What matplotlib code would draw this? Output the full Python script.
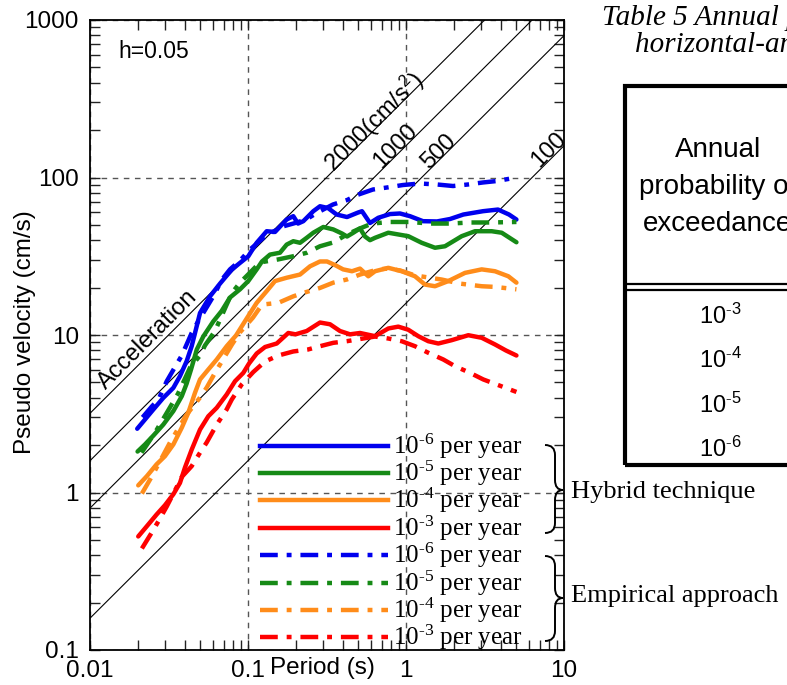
import matplotlib
matplotlib.use("Agg")
import matplotlib.pyplot as plt
from matplotlib import ticker
from matplotlib.lines import Line2D
from matplotlib.patches import PathPatch, Rectangle
from matplotlib.path import Path
import numpy as np

plt.rcParams.update({
    'font.family': ['Liberation Sans', 'DejaVu Sans'],
    'mathtext.fontset': 'custom',
    'mathtext.rm': 'Liberation Serif',
    'mathtext.it': 'Liberation Serif:italic',
    'mathtext.bf': 'Liberation Serif:bold',
    'mathtext.sf': 'Liberation Sans',
})

# ---------------- data (period in s, pseudo velocity in cm/s) ----------------
hyb6_T = [0.0199, 0.0223, 0.0252, 0.0291, 0.0337, 0.0371, 0.0409, 0.0440, 0.0462, 0.0497,
          0.0575, 0.0665, 0.0789, 0.0890, 0.1004, 0.1135, 0.1313, 0.1482, 0.1757, 0.1935,
          0.2073, 0.2239, 0.259, 0.2856, 0.3209, 0.3642, 0.4233, 0.4969, 0.5266, 0.5917,
          0.6677, 0.792, 0.9163, 1.06, 1.281, 1.571, 1.899, 2.306, 3.071, 3.822, 4.487, 5.0]
hyb6_V = [2.54, 2.91, 3.37, 3.99, 4.62, 5.48, 6.82, 8.49, 10.3, 13.8,
          17.6, 21.2, 26.0, 28.7, 31.6, 38.5, 45.6, 45.1, 54.1, 56.8,
          51.0, 52.8, 61.1, 65.7, 64.0, 58.2, 56.1, 59.9, 61.1, 51.4,
          55.5, 58.6, 59.1, 56.8, 52.8, 52.6, 54.5, 58.2, 61.1, 62.6, 58.2, 54.1]

hyb5_T = [0.0200, 0.0223, 0.0252, 0.0291, 0.0337, 0.0381, 0.0409, 0.0436, 0.0474, 0.0521,
          0.0603, 0.0681, 0.0769, 0.0890, 0.1004, 0.1135, 0.1226, 0.1378, 0.1594, 0.1757,
          0.1935, 0.2134, 0.2352, 0.259, 0.2997, 0.3467, 0.3934, 0.4233, 0.464, 0.5115,
          0.5503, 0.5917, 0.6366, 0.7727, 1.034, 1.257, 1.526, 1.765, 2.252, 2.734, 3.486, 4.034, 5.0]
hyb5_V = [1.82, 2.02, 2.30, 2.70, 3.29, 4.09, 4.92, 6.04, 8.09, 9.78,
          12.2, 14.2, 17.3, 19.5, 22.0, 26.1, 29.3, 32.4, 33.3, 37.5,
          39.4, 38.5, 41.4, 44.6, 48.5, 46.8, 44.1, 42.2, 44.6, 47.5,
          42.2, 40.0, 41.4, 44.6, 42.4, 38.5, 35.8, 36.6, 42.4, 45.6, 45.6, 44.6, 38.8]

hyb4_T = [0.0202, 0.0229, 0.0264, 0.0298, 0.0337, 0.0381, 0.0419, 0.0462, 0.0497, 0.0561,
          0.0634, 0.0733, 0.0840, 0.1004, 0.1135, 0.1313, 0.1482, 0.1757, 0.2134, 0.2469,
          0.2856, 0.3162, 0.3553, 0.40, 0.4551, 0.5115, 0.5774, 0.6366, 0.7727, 0.9393,
          1.14, 1.319, 1.526, 1.852, 2.363, 3.014, 3.658, 4.442, 5.0]
hyb4_V = [1.11, 1.27, 1.51, 1.70, 2.02, 2.58, 3.21, 4.30, 5.22, 6.04,
          6.99, 8.49, 9.93, 13.2, 16.0, 19.0, 22.0, 23.1, 24.2, 27.3,
          29.3, 29.3, 27.8, 26.1, 25.4, 26.4, 23.6, 25.4, 26.7, 25.4,
          23.6, 20.9, 20.4, 22.0, 24.8, 26.1, 25.4, 23.6, 21.5]

hyb3_T = [0.0202, 0.0229, 0.0264, 0.0298, 0.0337, 0.0371, 0.0399, 0.0440, 0.0497, 0.0561,
          0.0634, 0.0733, 0.0828, 0.0934, 0.1015, 0.1135, 0.1282, 0.152, 0.1799, 0.20,
          0.2352, 0.2856, 0.3304, 0.3821, 0.4421, 0.5115, 0.6366, 0.7727, 0.8939, 1.034,
          1.196, 1.384, 1.601, 1.946, 2.48, 3.014, 3.658, 4.295, 5.0]
hyb3_V = [0.526, 0.611, 0.725, 0.830, 0.975, 1.15, 1.44, 1.87, 2.51, 3.05,
          3.45, 4.19, 5.09, 5.75, 6.59, 7.63, 8.39, 8.83, 10.3, 10.1,
          10.6, 12.0, 11.7, 10.6, 10.1, 10.3, 9.83, 11.0, 11.3, 10.8,
          9.83, 9.13, 8.83, 9.27, 9.97, 9.60, 8.71, 7.97, 7.41]

emp6_T = [0.0215, 0.0247, 0.0271, 0.0306, 0.0345, 0.0381, 0.0440, 0.0490, 0.0521, 0.0603,
          0.0684, 0.0769, 0.0890, 0.103, 0.130, 0.1665, 0.2042, 0.2362, 0.2734, 0.3451,
          0.4233, 0.4897, 0.6181, 0.758, 0.957, 1.226, 1.571, 1.984, 2.469, 3.071, 3.766, 5.0]
emp6_V = [3.00, 3.53, 3.89, 5.09, 6.26, 7.41, 10.3, 12.5, 13.8, 17.6,
          22.5, 26.1, 29.7, 34.9, 42.8, 48.9, 51.8, 54.5, 59.7, 67.4,
          71.9, 77.4, 83.9, 86.4, 89.6, 91.6, 90.3, 88.3, 90.3, 93.0, 95.0, 100.0]

emp5_T = [0.0212, 0.0258, 0.0307, 0.0361, 0.0430, 0.0497, 0.0534, 0.0618, 0.0733, 0.0792,
          0.0890, 0.103, 0.1191, 0.1555, 0.1926, 0.2362, 0.2856, 0.3467, 0.4233, 0.5115,
          0.6091, 0.792, 1.06, 1.419, 1.899, 2.542, 3.401, 5.0]
emp5_V = [1.79, 2.40, 3.22, 4.25, 6.22, 7.41, 8.58, 10.6, 15.6, 18.5,
          21.5, 24.9, 28.9, 30.2, 31.6, 33.3, 36.6, 38.7, 43.5, 47.5,
          51.0, 52.2, 52.2, 51.0, 51.0, 51.8, 51.8, 52.2]

emp4_T = [0.0213, 0.0240, 0.0266, 0.0321, 0.0405, 0.0497, 0.0548, 0.0618, 0.0715, 0.0792,
          0.0890, 0.1075, 0.1226, 0.1555, 0.1935, 0.2239, 0.2856, 0.3467, 0.4214, 0.5115,
          0.6649, 0.769, 0.9163, 1.14, 1.378, 1.682, 2.197, 3.014, 3.658, 5.0]
emp4_V = [0.985, 1.21, 1.46, 2.08, 3.08, 4.01, 4.64, 5.75, 7.34, 8.71,
          10.4, 12.9, 15.6, 16.0, 17.6, 18.5, 19.9, 21.5, 22.5, 24.2,
          26.1, 26.4, 25.7, 23.9, 23.2, 22.5, 21.2, 20.4, 20.2, 19.5]

emp3_T = [0.0213, 0.0246, 0.0271, 0.0306, 0.0345, 0.0382, 0.0440, 0.0497, 0.0548, 0.0634,
          0.0733, 0.0789, 0.0912, 0.108, 0.1282, 0.1555, 0.1935, 0.2397, 0.2856, 0.3467,
          0.4214, 0.5115, 0.6366, 0.7727, 0.9393, 1.14, 1.384, 1.722, 2.042, 2.542,
          3.085, 3.751, 5.0]
emp3_V = [0.441, 0.557, 0.657, 0.815, 1.03, 1.26, 1.47, 1.79, 2.08, 2.70,
          3.37, 3.89, 4.85, 5.82, 6.79, 7.41, 7.86, 8.09, 8.49, 8.92,
          9.13, 9.43, 9.78, 9.50, 9.13, 8.49, 7.71, 6.99, 6.34, 5.75,
          5.22, 4.85, 4.35]

accel_levels = [2000, 1000, 500, 100]          # cm/s^2
accel_labels = ['2000(cm/s$\\mathsf{^2}$)', '1000', '500', '100']
exceed_exps = [3, 4, 5, 6]
legend_exps = [6, 5, 4, 3, 6, 5, 4, 3]
x_ticks = [0.01, 0.1, 1, 10]
y_ticks = [0.1, 1, 10, 100, 1000]

C_BLUE, C_GREEN, C_ORANGE, C_RED = '#0000ee', '#168a16', '#ff8c1a', '#ff0000'
LW = 3.2
DASHDOT = (4.0, 2.0, 1.1, 2.0)

series = [
    (hyb6_T, hyb6_V, C_BLUE, None), (hyb5_T, hyb5_V, C_GREEN, None),
    (hyb4_T, hyb4_V, C_ORANGE, None), (hyb3_T, hyb3_V, C_RED, None),
    (emp6_T, emp6_V, C_BLUE, DASHDOT), (emp5_T, emp5_V, C_GREEN, DASHDOT),
    (emp4_T, emp4_V, C_ORANGE, DASHDOT), (emp3_T, emp3_V, C_RED, DASHDOT),
]

W, H = 787, 685
def fx(px):
    return px / W
def fy(py):
    return 1 - py / H

fig = plt.figure(figsize=(W / 100, H / 100), dpi=100)
ax = fig.add_axes([fx(90), fy(650), (564 - 90) / W, (650 - 20) / H])
ax.set_xscale('log')
ax.set_yscale('log')
ax.set_xlim(0.01, 10)
ax.set_ylim(0.1, 1000)

# constant pseudo-acceleration lines: PSV = A T / (2 pi)
T_line = np.logspace(-2, 1, 60)
for A in accel_levels:
    ax.plot(T_line, A * T_line / (2 * np.pi), color='black', lw=0.8, zorder=2)

for T, V, c, d in series:
    if d is None:
        ax.plot(T, V, color=c, lw=LW, solid_capstyle='round', solid_joinstyle='round', zorder=3)
    else:
        ax.plot(T, V, color=c, lw=LW, dashes=d, dash_capstyle='butt', zorder=3)

# axes styling
fmt = ticker.FuncFormatter(lambda v, _: f'{v:g}')
ax.xaxis.set_major_locator(ticker.FixedLocator(x_ticks))
ax.yaxis.set_major_locator(ticker.FixedLocator(y_ticks))
ax.xaxis.set_major_formatter(fmt)
ax.yaxis.set_major_formatter(fmt)
ax.xaxis.set_minor_locator(ticker.LogLocator(base=10, subs=np.arange(2, 10)))
ax.yaxis.set_minor_locator(ticker.LogLocator(base=10, subs=np.arange(2, 10)))
ax.xaxis.set_minor_formatter(ticker.NullFormatter())
ax.yaxis.set_minor_formatter(ticker.NullFormatter())
ax.tick_params(which='both', direction='in', top=True, right=True, length=7, width=1,
               color='#222222')
ax.tick_params(axis='y', which='major', labelsize=17.5, pad=8)
ax.tick_params(axis='x', which='major', labelsize=17.5, pad=7)
for s in ax.spines.values():
    s.set_linewidth(1.3)
ax.grid(which='major', linestyle=(0, (4, 4)), color='#555555', lw=1.0)
ax.set_axisbelow(True)

fig.text(fx(25), fy(332), 'Pseudo velocity (cm/s)', fontsize=17.5, rotation=90,
         ha='center', va='center')
fig.text(fx(322), fy(668), 'Period (s)', fontsize=17.5, ha='center', va='center')
fig.text(fx(118), fy(52), 'h=0.05', fontsize=16.5, ha='left', va='center')

# diagonal labels
fig.text(fx(148), fy(340), 'Acceleration', fontsize=17, rotation=45,
         rotation_mode='anchor', ha='center', va='center')
lab_pos = [(374, 122), (396, 146), (439, 152), (549, 150)]
for lab, (px, py) in zip(accel_labels, lab_pos):
    fig.text(fx(px), fy(py), lab, fontsize=17, rotation=45,
             rotation_mode='anchor', ha='center', va='center')

# legend (drawn manually)
leg_colors = [C_BLUE, C_GREEN, C_ORANGE, C_RED] * 2
leg_dashes = [None] * 4 + [DASHDOT] * 4
for i, (c, d, e) in enumerate(zip(leg_colors, leg_dashes, legend_exps)):
    y = 445.7 + i * 27.37
    kw = dict(transform=fig.transFigure, color=c, lw=LW)
    if d is not None:
        kw.update(dashes=d, dash_capstyle='butt')
    fig.add_artist(Line2D([fx(260), fx(388)], [fy(y), fy(y)], **kw))
    fig.text(fx(393), fy(y + 8), rf'$10^{{\text{{-}}{e}}}$ per year', family='Liberation Serif',
             fontsize=18, ha='left', va='baseline')

# braces
def brace(y_top, y_tip, y_bot, x_end=545, x_shaft=555, x_tip=563):
    r = 10
    verts = [(x_end, y_top), (x_shaft, y_top), (x_shaft, y_top + r),
             (x_shaft, y_tip - r),
             (x_shaft, y_tip), (x_tip, y_tip),
             (x_shaft, y_tip), (x_shaft, y_tip + r),
             (x_shaft, y_bot - r),
             (x_shaft, y_bot), (x_end, y_bot)]
    codes = [Path.MOVETO, Path.CURVE3, Path.CURVE3, Path.LINETO,
             Path.CURVE3, Path.CURVE3, Path.CURVE3, Path.CURVE3,
             Path.LINETO, Path.CURVE3, Path.CURVE3]
    verts = [(fx(a), fy(b)) for a, b in verts]
    fig.add_artist(PathPatch(Path(verts, codes), transform=fig.transFigure,
                             fill=False, lw=1.4, ec='black'))

brace(445, 490, 533)
brace(556, 598, 641)
fig.text(fx(571), fy(491.7), 'Hybrid technique', family='Liberation Serif', fontsize=19,
         ha='left', va='center')
fig.text(fx(571), fy(596), 'Empirical approach', family='Liberation Serif', fontsize=19,
         ha='left', va='center')

# table (partially visible on the right)
fig.text(fx(602), fy(18), 'Table 5 Annual probability', family='Liberation Serif',
         style='italic', fontsize=21, ha='left', va='center')
fig.text(fx(635), fy(45), 'horizontal-and vertical', family='Liberation Serif',
         style='italic', fontsize=21, ha='left', va='center')
fig.add_artist(Rectangle((fx(625), fy(465)), fx(300), (465 - 86) / H,
                         transform=fig.transFigure, fill=False, lw=3, ec='black'))
for yy in (284.3, 289.5):
    fig.add_artist(Line2D([fx(625), fx(900)], [fy(yy), fy(yy)],
                          transform=fig.transFigure, color='black', lw=1.6))
for txt, b in zip(['Annual', 'probability of', 'exceedance'], [157, 194, 231]):
    fig.text(fx(718), fy(b), txt, fontsize=20, ha='center', va='baseline')
for e, b in zip(exceed_exps, [324, 368, 413, 457]):
    fig.text(fx(720), fy(b), rf'$\mathsf{{10^{{\text{{-}}{e}}}}}$', fontsize=17,
             ha='center', va='baseline')

fig.savefig('out.png', dpi=100)
